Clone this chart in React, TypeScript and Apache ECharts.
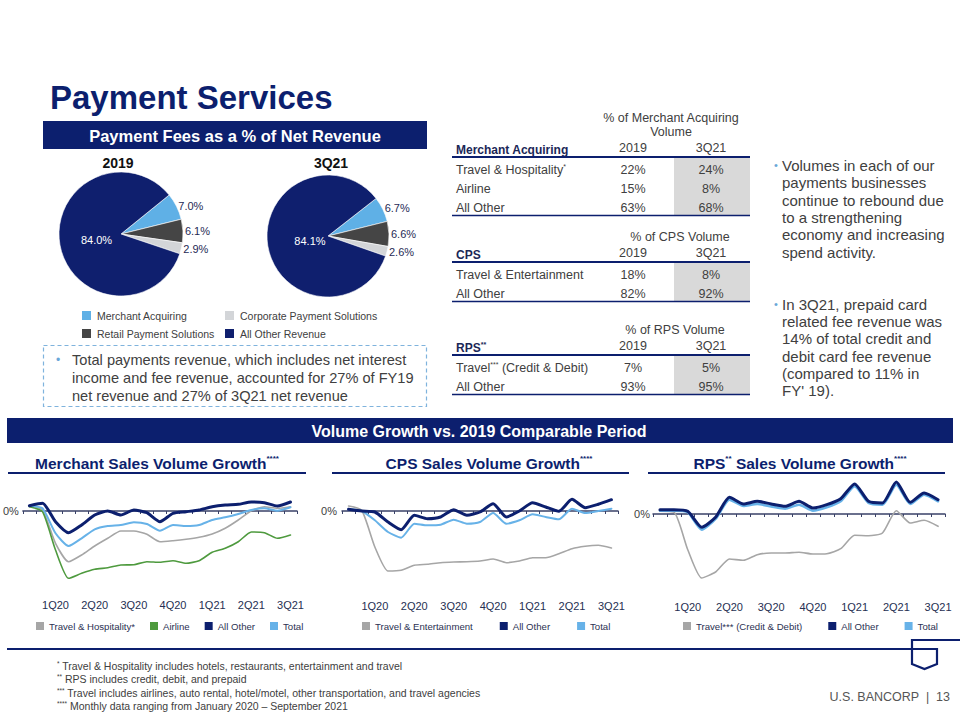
import React, { useEffect, useRef } from 'react';
import * as echarts from 'echarts';

const FONT = '"Liberation Sans", Arial, Helvetica, sans-serif';
const NAVY = '#0c1f6e';
const TXT = '#404040';
const LBLUE = '#67b2e8';
const GRAYL = '#a6a6a6';
const GREEN = '#4e9a3e';

// ---------- Pie data ----------
const pieNames = ['Merchant Acquiring', 'Retail Payment Solutions', 'Corporate Payment Solutions', 'All Other Revenue'];
const pieColors = ['#5fb0e6', '#454545', '#d3d5d8', '#0f1f6e'];
const pie2019 = [7.0, 6.1, 2.9, 84.0];
const pie3Q21 = [6.7, 6.6, 2.6, 84.1];

// ---------- Line data (monthly Jan 2020 - Sep 2021, growth vs 2019, %) ----------
const months = ['Jan-20', 'Feb-20', 'Mar-20', 'Apr-20', 'May-20', 'Jun-20', 'Jul-20', 'Aug-20', 'Sep-20', 'Oct-20', 'Nov-20', 'Dec-20',
  'Jan-21', 'Feb-21', 'Mar-21', 'Apr-21', 'May-21', 'Jun-21', 'Jul-21', 'Aug-21', 'Sep-21'];
const quarterTicks = ['1Q20', '2Q20', '3Q20', '4Q20', '1Q21', '2Q21', '3Q21'];

const merchantTravel = [5.3, 1, -32.3, -50.7, -44, -35, -27.3, -20, -20, -23.3, -30.7, -29.7, -28.3, -26.3, -23, -17.3, -9, 0.3, 4.3, 2.7, 4.3];
const merchantAirline = [4.3, -0.7, -39, -67.3, -62.3, -58.3, -56.7, -54, -53.7, -50.7, -51.3, -49.7, -52.3, -49.7, -41.3, -37.3, -30.7, -21, -21.7, -27.3, -24];
const merchantAllOther = [5.3, 7.7, -10.7, -21.7, -14, -4, 0, -4, 1, -1.7, -10.7, -2.3, -0.7, 1, 4.3, 6, 6.7, 9, 8.3, 5, 9];
const merchantTotal = [5.3, 2.7, -22.3, -35, -27.3, -18.3, -15, -14, -11.3, -13, -19.7, -14, -15, -14, -9, -6.3, -3, 1, 2.7, 0.3, 3.7];

const cpsTravel = [5, 0.7, -36, -60, -59.3, -54.3, -53.3, -51.7, -51, -50.7, -50, -48, -51.7, -50, -46.7, -46.7, -42.7, -37.7, -35.3, -34.3, -37];
const cpsAllOther = [1.7, 0, -1, -11, -18.7, -4.3, -7.7, -6, 1.3, -4.3, -1, 7.3, -6, 0, 8.3, 4, -0.3, 11.7, 3.3, 6.7, 11.3];
const cpsTotal = [1.7, 0, -9.3, -21, -26.7, -12.7, -14.3, -13.7, -8.7, -12.7, -11, -2, -12.7, -9.3, -3.3, -6, -8.3, 2.3, -2, 0, 2.3];

const rpsTravel = [2.7, 2, -35.7, -64, -58, -45, -46.3, -40.7, -39, -39, -38.3, -40, -39.7, -34.7, -21.3, -21.7, -19, 3.3, -9, -6.3, -12.3];
const rpsAllOther = [4.3, 4.3, 2.7, -13.3, -3.3, 16.7, 10, 12.7, 10, 7.7, 12.7, 6, 9.3, 15.3, 30, 12.7, 11, 32, 11.7, 21, 14.3];
const rpsTotal = [3.3, 3.3, 1.7, -15.7, -5, 14.3, 8, 10, 7.5, 5.3, 9.3, 3.3, 6.7, 12.7, 27.7, 11, 9.3, 29.3, 10, 19.3, 12.7];

// ---------- Table data ----------
const merchantLabels = ['Travel & Hospitality', 'Airline', 'All Other'];
const merchantSups = ['*', '', ''];
const merchant2019 = ['22%', '15%', '63%'];
const merchant3Q21 = ['24%', '8%', '68%'];
const cpsLabels = ['Travel & Entertainment', 'All Other'];
const cpsSups = ['', ''];
const cps2019 = ['18%', '82%'];
const cps3Q21 = ['8%', '92%'];
const rpsLabels = ['Travel', 'All Other'];
const rpsSups = ['***', ''];
const rpsSuffix = [' (Credit & Debit)', ''];
const rps2019 = ['7%', '93%'];
const rps3Q21 = ['5%', '95%'];

const bullets1 = ['Volumes in each of our', 'payments businesses', 'continue to rebound due', 'to a strengthening', 'economy and increasing', 'spend activity.'];
const bullets2 = ['In 3Q21, prepaid card', 'related fee revenue was', '14% of total credit and', 'debit card fee revenue', '(compared to 11% in', "FY' 19)."];
const boxLines = ['Total payments revenue, which includes net interest', 'income and fee revenue, accounted for 27% of FY19', 'net revenue and 27% of 3Q21 net revenue'];

const footnotes = [
  ['*', ' Travel & Hospitality includes hotels, restaurants, entertainment and travel'],
  ['**', ' RPS includes credit, debit, and prepaid'],
  ['***', ' Travel includes airlines, auto rental, hotel/motel, other transportation, and travel agencies'],
  ['****', ' Monthly data ranging from January 2020 \u2013 September 2021'],
];

function txt(x: number, y: number, text: string, o: any = {}) {
  return {
    type: 'text', x, y, silent: true, z: 10,
    style: {
      text, fill: o.fill || TXT, fontSize: o.size || 12, fontWeight: o.weight || 'normal',
      fontFamily: o.family || FONT, align: o.align || 'left', verticalAlign: o.va || 'middle',
      lineHeight: o.lh, rich: o.rich,
    },
  };
}
function hline(x1: number, x2: number, y: number, w = 1.5, color = NAVY) {
  return { type: 'line', silent: true, z: 10, shape: { x1, y1: y, x2, y2: y }, style: { stroke: color, lineWidth: w } };
}
function rect(x: number, y: number, w: number, h: number, fill: string, extra: any = {}) {
  return { type: 'rect', silent: true, z: 1, shape: { x, y, width: w, height: h }, style: { fill, ...extra } };
}

function tableSection(top: number, caption: string[], header: string, headerSup: string,
  labels: string[], sups: string[], suffix: string[], v1: string[], v2: string[], captionX: number) {
  const els: any[] = [];
  caption.forEach((c, i) => els.push(txt(captionX, top + i * 14, c, { align: 'center', size: 12.5 })));
  const hy = top + (caption.length - 1) * 14 + 16;
  els.push(txt(456, hy + 2, `{b|${header}}{s|${headerSup}}`, {
    rich: { b: { fontSize: 12, fontWeight: 'bold', fill: '#1b2757', fontFamily: FONT, lineHeight: 14 },
      s: { fontSize: 7, fontWeight: 'bold', fill: '#1b2757', fontFamily: FONT, verticalAlign: 'top', lineHeight: 8 } },
  }));
  els.push(txt(633, hy, '2019', { align: 'center', size: 12.5 }));
  els.push(txt(711, hy, '3Q21', { align: 'center', size: 12.5 }));
  const ly = hy + 9;
  els.push(hline(452, 750, ly, 2));
  const rowH = 19;
  els.push(rect(674, ly + 1, 76, labels.length * rowH + 0.5, '#d9d9d9'));
  labels.forEach((l, i) => {
    const y = ly + 13 + i * rowH;
    els.push(txt(456, y, `{a|${l}}{s|${sups[i]}}{a|${suffix[i]}}`, {
      rich: { a: { fontSize: 12.5, fill: TXT, fontFamily: FONT, lineHeight: 14 },
        s: { fontSize: 7, fill: TXT, fontFamily: FONT, verticalAlign: 'top', lineHeight: 8 } },
    }));
    els.push(txt(633, y, v1[i], { align: 'center', size: 12.5 }));
    els.push(txt(711, y, v2[i], { align: 'center', size: 12.5 }));
  });
  els.push(hline(452, 750, ly + 1 + labels.length * rowH + 0.5, 1.5));
  return els;
}

function chartTitle(cx: number, text: string, x1: number, x2: number) {
  return [
    txt(cx, 463, text, {
      align: 'center',
      rich: {
        t: { fontSize: 15.5, fontWeight: 'bold', fill: NAVY, fontFamily: FONT, lineHeight: 18 },
        s: { fontSize: 8, fontWeight: 'bold', fill: NAVY, fontFamily: FONT, verticalAlign: 'top', lineHeight: 9 },
      },
    }),
    hline(x1, x2, 473, 2),
  ];
}

const lineGrids = [
  { left: 22, width: 275, top: 491, height: 100, min: -80, max: 20, margin: 8, yMargin: 4 },
  { left: 342, width: 276, top: 491, height: 100, min: -80, max: 20, margin: 9, yMargin: 5 },
  { left: 653, width: 292, top: 474, height: 120, min: -80, max: 40, margin: 7, yMargin: 3 },
];

function lineSeries(name: string, data: number[], idx: number, color: string, width: number, z: number) {
  return {
    type: 'line', name, data, xAxisIndex: idx, yAxisIndex: idx, showSymbol: false, smooth: 0.2, z,
    itemStyle: { color }, lineStyle: { color, width, join: 'round', cap: 'round' }, silent: true,
  };
}

export default function App() {
  const ref = useRef<HTMLDivElement>(null);
  useEffect(() => {
    if (!ref.current) return;
    const chart = echarts.init(ref.current, undefined, { renderer: 'svg' });

    const pieSeries = (data: number[], center: number[], r: number, startAngle: number, innerPad: number[]) => ({
      type: 'pie', center, radius: r, startAngle, clockwise: true, avoidLabelOverlap: false, silent: true,
      itemStyle: { borderColor: '#ffffff', borderWidth: 0.6 },
      label: {
        show: true, position: 'outside', fontSize: 11, color: '#1f2a55', fontFamily: FONT, distanceToLabelLine: 0,
        formatter: (p: any) => p.value.toFixed(1) + '%',
      },
      labelLine: { show: false, length: 2, length2: 0 },
      data: data.map((v, i) => ({
        name: pieNames[i], value: v, itemStyle: { color: pieColors[i] },
        ...(i === 3 ? { label: { position: 'inner', color: '#ffffff', fontSize: 11, padding: innerPad } } : {}),
      })),
    });

    const graphics: any[] = [
      // title
      txt(50, 97, 'Payment Services', { size: 33, weight: 'bold', fill: NAVY }),
      // pie banner
      rect(43, 121, 384, 28, NAVY),
      txt(235, 135.5, 'Payment Fees as a % of Net Revenue', { size: 16.5, weight: 'bold', fill: '#ffffff', align: 'center' }),
      txt(118, 163, '2019', { size: 14, weight: 'bold', fill: '#111111', align: 'center' }),
      txt(331, 163, '3Q21', { size: 14, weight: 'bold', fill: '#111111', align: 'center' }),
      // dashed box
      { type: 'rect', silent: true, z: 1, shape: { x: 43.5, y: 345.5, width: 383, height: 61 },
        style: { fill: 'none', stroke: '#7fb3dd', lineWidth: 1.2, lineDash: [4, 3] } },
      txt(56, 360, '\u2022', { size: 12, fill: '#6aa7d8' }),
      txt(72, 351, boxLines.join('\n'), { size: 14.6, va: 'top', lh: 18 }),
      // right bullets
      txt(774, 165, '\u2022', { size: 11, fill: '#6aa7d8' }),
      txt(782, 156.5, bullets1.join('\n'), { size: 15, va: 'top', lh: 17.4 }),
      txt(774, 304, '\u2022', { size: 11, fill: '#6aa7d8' }),
      txt(782, 295.5, bullets2.join('\n'), { size: 15, va: 'top', lh: 17.3 }),
      // tables
      ...tableSection(118, ['% of Merchant Acquiring', 'Volume'], 'Merchant Acquiring', '', merchantLabels, merchantSups, ['', '', ''], merchant2019, merchant3Q21, 671),
      ...tableSection(237, ['% of CPS Volume'], 'CPS', '', cpsLabels, cpsSups, ['', ''], cps2019, cps3Q21, 680),
      ...tableSection(330, ['% of RPS Volume'], 'RPS', '**', rpsLabels, rpsSups, rpsSuffix, rps2019, rps3Q21, 675),
      // volume banner
      rect(7, 418, 946, 25, NAVY),
      txt(479, 431, 'Volume Growth vs. 2019 Comparable Period', { size: 16, weight: 'bold', fill: '#ffffff', align: 'center' }),
      ...chartTitle(157, '{t|Merchant Sales Volume Growth}{s|****}', 8, 306),
      ...chartTitle(489, '{t|CPS Sales Volume Growth}{s|****}', 332, 629),
      ...chartTitle(800, '{t|RPS}{s|**}{t| Sales Volume Growth}{s|****}', 648, 945),
      // footer
      hline(7, 937, 649, 2),
      { type: 'polyline', silent: true, z: 10, shape: { points: [[960, 640], [912, 640], [912, 664], [924.5, 669], [937, 664], [937, 648]] },
        style: { stroke: NAVY, lineWidth: 2.2, fill: 'none' } },
      txt(950, 697, 'U.S. BANCORP  |  13', { size: 12.5, align: 'right', fill: '#555555' }),
      ...footnotes.map((f, i) => txt(57, 666 + i * 13.4, `{s|${f[0]}}{a|${f[1]}}`, {
        rich: {
          a: { fontSize: 10.5, fill: '#404040', fontFamily: '"Liberation Sans Narrow", "Arial Narrow", ' + FONT, lineHeight: 12 },
          s: { fontSize: 6.5, fill: '#404040', fontFamily: FONT, verticalAlign: 'top', lineHeight: 7 },
        },
      })),
    ];

    const legendBase = {
      icon: 'rect', selectedMode: false, itemWidth: 8, itemHeight: 8, padding: 0,
      textStyle: { fontSize: 9.6, color: '#2b3152', fontFamily: FONT },
    };

    const option: any = {
      animation: false,
      backgroundColor: '#ffffff',
      textStyle: { fontFamily: FONT },
      legend: [
        { ...legendBase, data: ['Merchant Acquiring', 'Retail Payment Solutions'], orient: 'vertical', left: 80, top: 309, itemWidth: 11, itemHeight: 11, itemGap: 5, textStyle: { fontSize: 10.5, color: TXT, fontFamily: FONT } },
        { ...legendBase, data: ['Corporate Payment Solutions', 'All Other Revenue'], orient: 'vertical', left: 223, top: 309, itemWidth: 11, itemHeight: 11, itemGap: 5, textStyle: { fontSize: 10.5, color: TXT, fontFamily: FONT } },
        { ...legendBase, data: ['Travel & Hospitality*', 'Airline', 'All Other', 'Total'], left: 36, top: 621, itemGap: 15 },
        { ...legendBase, data: ['Travel & Entertainment', 'All Other', 'Total'], left: 362, top: 621, itemGap: 27 },
        { ...legendBase, data: ['Travel*** (Credit & Debit)', 'All Other', 'Total'], left: 683, top: 621, itemGap: 26 },
      ],
      grid: lineGrids.map((g) => ({ left: g.left, width: g.width, top: g.top, height: g.height })),
      xAxis: lineGrids.map((g, i) => ({
        type: 'category', gridIndex: i, data: months, boundaryGap: true,
        axisLine: { onZero: true, lineStyle: { color: '#3a4268', width: 1.5 } },
        axisTick: { show: true, length: 3, interval: 0, lineStyle: { color: '#3a4268' } },
        axisLabel: {
          interval: 0, margin: g.margin, fontSize: 11, color: '#262f52', fontFamily: FONT,
          formatter: (_v: string, idx: number) => (idx % 3 === 2 ? quarterTicks[(idx - 2) / 3] : ''),
        },
        splitLine: { show: false },
      })),
      yAxis: lineGrids.map((g, i) => ({
        type: 'value', gridIndex: i, min: g.min, max: g.max, interval: 20,
        axisLine: { show: false }, axisTick: { show: false }, splitLine: { show: false },
        axisLabel: { margin: g.yMargin, fontSize: 11, color: TXT, fontFamily: FONT, formatter: (v: number) => (v === 0 ? '0%' : '') },
      })),
      series: [
        pieSeries(pie2019, [121, 234], 62, 39, [12, 0, 0, 18]),
        pieSeries(pie3Q21, [328, 236], 61, 38, [8, 0, 0, 30]),
        lineSeries('Travel & Hospitality*', merchantTravel, 0, GRAYL, 1.6, 2),
        lineSeries('Airline', merchantAirline, 0, GREEN, 1.6, 3),
        lineSeries('Total', merchantTotal, 0, LBLUE, 2, 4),
        lineSeries('All Other', merchantAllOther, 0, NAVY, 3, 5),
        lineSeries('Travel & Entertainment', cpsTravel, 1, GRAYL, 1.6, 2),
        lineSeries('Total', cpsTotal, 1, LBLUE, 2, 4),
        lineSeries('All Other', cpsAllOther, 1, NAVY, 3, 5),
        lineSeries('Travel*** (Credit & Debit)', rpsTravel, 2, GRAYL, 1.6, 2),
        lineSeries('Total', rpsTotal, 2, LBLUE, 2.5, 4),
        lineSeries('All Other', rpsAllOther, 2, NAVY, 3, 5),
      ],
      graphic: graphics,
    };
    chart.setOption(option);
    return () => chart.dispose();
  }, []);
  return <div ref={ref} style={{ position: 'absolute', left: 0, top: 0, width: 960, height: 720 }} />;
}
